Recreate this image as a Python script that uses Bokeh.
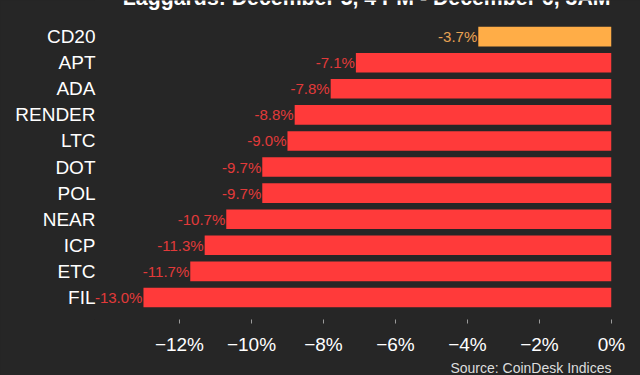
from bokeh.plotting import figure
from bokeh.models import ColumnDataSource, Range1d, FixedTicker, Label, LabelSet, Title
from bokeh.core.properties import value
from bokeh.embed import file_html
from bokeh.resources import INLINE

# ---- data ----
assets = ["CD20", "APT", "ADA", "RENDER", "LTC", "DOT", "POL", "NEAR", "ICP", "ETC", "FIL"]
changes = [-3.7, -7.1, -7.8, -8.8, -9.0, -9.7, -9.7, -10.7, -11.3, -11.7, -13.0]
x_ticks = [-12, -10, -8, -6, -4, -2, 0]
title_text = "Laggards: December 5, 4 PM - December 6, 3AM"
source_text = "Source: CoinDesk Indices"

BG = "#262626"
RED = "#FF3A3A"
ORANGE = "#FFAD47"
RED_TXT = "#E23A3A"
ORANGE_TXT = "#E9A253"
FONT = "Liberation Sans"

n = len(assets)
ypos = [n - 1 - i for i in range(n)]          # first asset on top
bar_colors = [ORANGE if a == "CD20" else RED for a in assets]
txt_colors = [ORANGE_TXT if a == "CD20" else RED_TXT for a in assets]
labels = [f"{v:.1f}%" for v in changes]

src = ColumnDataSource(dict(y=ypos, change=changes, zero=[0] * n,
                            color=bar_colors, tcolor=txt_colors, label=labels))

p = figure(width=640, height=375, output_backend="svg", toolbar_location=None,
           y_range=Range1d(-0.846, n - 1 + 1.385),
           x_range=Range1d(-14.36, 0),
           min_border_left=94, min_border_right=29, min_border_top=0, min_border_bottom=53,
           styles={"background-color": BG})

p.background_fill_color = BG
p.border_fill_color = BG
p.outline_line_color = None
p.xgrid.visible = False
p.ygrid.visible = False

p.hbar(y="y", left="change", right="zero", height=0.75, fill_color="color",
       line_color=None, source=src)
p.add_layout(LabelSet(x="change", y="y", text="label", text_color="tcolor", source=src,
                      text_align="right", text_baseline="middle", x_offset=-1,
                      text_font=value(FONT), text_font_size=value("15px")))

xa = p.xaxis[0]
xa.ticker = FixedTicker(ticks=x_ticks)
xa.major_label_overrides = {t: ("\u2212" if t < 0 else "") + f"{abs(t)}%" for t in x_ticks}
xa.axis_line_color = None
xa.major_tick_line_color = "#9a9a9a"
xa.major_tick_out = 4
xa.major_tick_in = 0
xa.minor_tick_line_color = None
xa.major_label_text_color = "white"
xa.major_label_text_font = FONT
xa.major_label_text_font_size = "19px"
xa.major_label_standoff = 10

ya = p.yaxis[0]
ya.ticker = FixedTicker(ticks=ypos)
ya.major_label_overrides = {y: a for y, a in zip(ypos, assets)}
ya.axis_line_color = None
ya.major_tick_line_color = None
ya.minor_tick_line_color = None
ya.major_label_text_color = "white"
ya.major_label_text_font = FONT
ya.major_label_text_font_size = "19px"
ya.major_label_standoff = -7

p.add_layout(Label(x=610, y=-3, x_units="canvas", y_units="canvas", text=title_text,
                   text_align="right", text_baseline="alphabetic", text_color="white",
                   text_font=FONT, text_font_style="bold", text_font_size="21.3px"))
p.add_layout(Title(text=source_text, align="right", text_color="#dddddd",
                   text_font=FONT, text_font_style="normal", text_font_size="14px",
                   standoff=0), "below")

open("out.html", "w").write(file_html(p, INLINE))
